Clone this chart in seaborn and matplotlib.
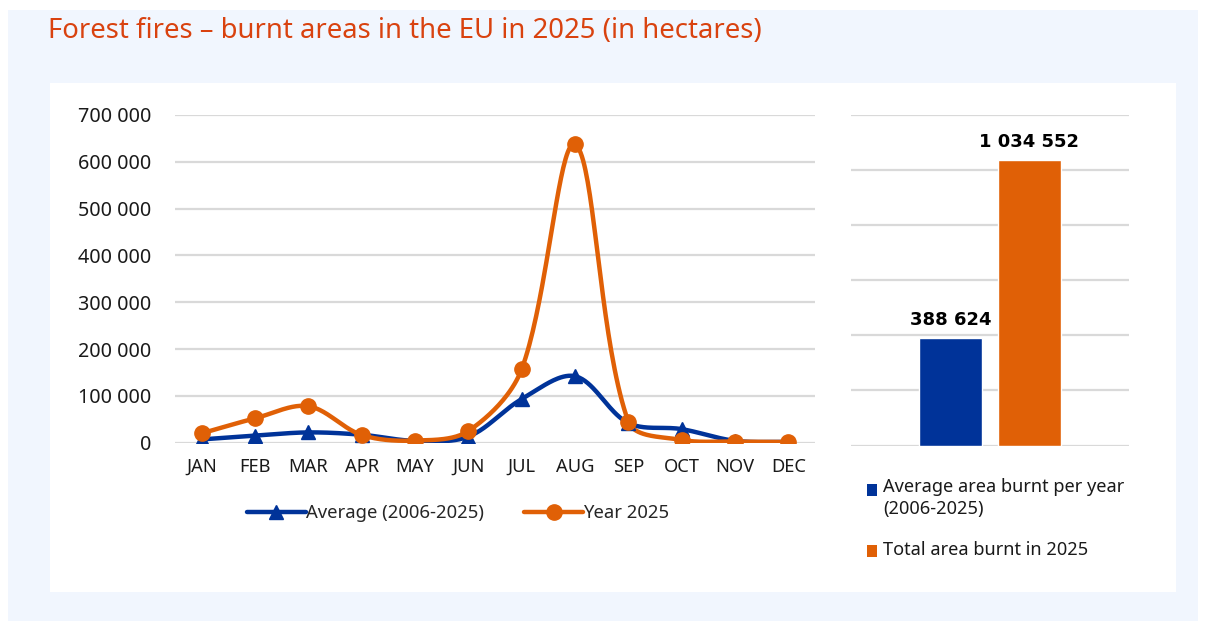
import numpy as np
import pandas as pd
import matplotlib
matplotlib.use("Agg")
import matplotlib.pyplot as plt
import seaborn as sns
from matplotlib.patches import Rectangle
from matplotlib.lines import Line2D
from matplotlib.ticker import FuncFormatter

# data (hectares)
months = ["JAN", "FEB", "MAR", "APR", "MAY", "JUN", "JUL", "AUG", "SEP", "OCT", "NOV", "DEC"]
avg_2006_2025 = [7000, 15000, 22000, 17000, 4000, 13000, 93000, 142000, 42000, 29000, 4000, 1500]
year_2025 = [20000, 52000, 78000, 16500, 4500, 25000, 157000, 637000, 45000, 6000, 2500, 1500]

bar_labels = ["Average area burnt per year\n(2006-2025)", "Total area burnt in 2025"]
bar_values = [388624, 1034552]

BLUE = "#003399"
ORANGE = "#e06006"
TITLE_C = "#d9420f"
BG = "#f1f6fe"
GRID = "#d9d9d9"

sns.set_theme(style="white")
plt.rcParams["font.family"] = ["Noto Sans", "DejaVu Sans"]

W, H = 1208, 623
fig = plt.figure(figsize=(W / 100, H / 100), dpi=100)
fig.patch.set_facecolor("white")

# background panels
fig.add_artist(Rectangle((8 / W, 1 - 621 / H), 1190 / W, 611 / H, transform=fig.transFigure,
                         facecolor=BG, edgecolor="none", zorder=-10))
fig.add_artist(Rectangle((50 / W, 1 - 592 / H), 1126 / W, 509 / H, transform=fig.transFigure,
                         facecolor="white", edgecolor="none", zorder=-9))

fig.text(48 / W, 1 - 31 / H, "Forest fires \u2013 burnt areas in the EU in 2025 (in hectares)",
         color=TITLE_C, fontsize=19.8, va="center", ha="left")

# ---- line chart ----
ax_l, ax_r, ax_b, ax_t = 175, 815, 442.7, 115
ax = fig.add_axes([ax_l / W, 1 - ax_b / H, (ax_r - ax_l) / W, (ax_b - ax_t) / H])
ax.set_facecolor("none")
ymax = 700000
px_x = (ax_r - ax_l) / 12.0
px_y = (ax_b - ax_t) / ymax


def smooth(vals, n=40):
    # excel-like smoothed line (bezier with length-weighted tangents)
    x = np.arange(len(vals), dtype=float)
    y = np.array(vals, dtype=float)
    P = np.column_stack([x * px_x, y * px_y])
    out = []
    for i in range(len(P) - 1):
        p0 = P[i - 1] if i > 0 else P[i]
        p1, p2 = P[i], P[i + 1]
        p3 = P[i + 2] if i + 2 < len(P) else P[i + 1]
        d01 = np.linalg.norm(p1 - p0)
        d12 = np.linalg.norm(p2 - p1)
        d23 = np.linalg.norm(p3 - p2)
        f1 = d12 / (d01 + d12) if d01 + d12 > 0 else 0
        f2 = d12 / (d12 + d23) if d12 + d23 > 0 else 0
        c1 = p1 + (p2 - p0) * f1 / 3
        c2 = p2 - (p3 - p1) * f2 / 3
        t = np.linspace(0, 1, n)[:, None]
        seg = (1 - t) ** 3 * p1 + 3 * (1 - t) ** 2 * t * c1 + 3 * (1 - t) * t ** 2 * c2 + t ** 3 * p2
        out.append(seg if i == 0 else seg[1:])
    seg = np.vstack(out)
    return seg[:, 0] / px_x, seg[:, 1] / px_y


for vals, col, mk, ms in [(avg_2006_2025, BLUE, "^", 10), (year_2025, ORANGE, "o", 11)]:
    sx, sy = smooth(vals)
    curve = pd.DataFrame({"x": sx, "y": sy})
    sns.lineplot(data=curve, x="x", y="y", ax=ax, color=col, lw=3.2, sort=False,
                 estimator=None, zorder=3)
    ax.plot(np.arange(len(vals)), vals, linestyle="none", marker=mk, ms=ms,
            color=col, zorder=4)

ax.set_xlim(-0.5, 11.5)
ax.set_ylim(0, ymax)
ax.set_yticks(np.arange(0, ymax + 1, 100000))
ax.yaxis.set_major_formatter(FuncFormatter(lambda v, p: f"{int(v):,}".replace(",", " ")))
ax.set_xticks(range(12))
ax.set_xticklabels(months)
ax.set_xlabel("")
ax.set_ylabel("")
ax.grid(axis="y", color=GRID, lw=1.6)
ax.set_axisbelow(True)
for s in ax.spines.values():
    s.set_visible(False)
ax.tick_params(axis="y", length=0, pad=17, labelsize=14.2, labelcolor="#1a1a1a")
ax.tick_params(axis="x", length=0, pad=11, labelsize=13.2, labelcolor="#1a1a1a")

handles = [Line2D([], [], color=BLUE, lw=3.2, marker="^", ms=10),
           Line2D([], [], color=ORANGE, lw=3.2, marker="o", ms=11)]
fig.legend(handles, ["Average (2006-2025)", "Year 2025"], loc="center",
           bbox_to_anchor=(458 / W, 1 - 513 / H), ncol=2, frameon=False,
           fontsize=13.3, handlelength=3.2, handletextpad=0.0, columnspacing=2.2)

# ---- bar chart ----
b_l, b_r, b_b, b_t = 851, 1129, 445.7, 114.5
axb = fig.add_axes([b_l / W, 1 - b_b / H, (b_r - b_l) / W, (b_b - b_t) / H])
axb.set_facecolor("none")
bars = pd.DataFrame({"cat": bar_labels, "val": bar_values})
sns.barplot(data=bars, x="cat", y="val", hue="cat", palette=[BLUE, ORANGE], width=0.8,
            legend=False, ax=axb, saturation=1, zorder=3)
axb.set_xlim(-1.26, 2.26)
axb.set_ylim(0, 1200000)
axb.set_yticks(np.arange(0, 1200001, 200000))
axb.set_yticklabels([])
axb.set_xticks([])
axb.set_xlabel("")
axb.set_ylabel("")
axb.grid(axis="y", color=GRID, lw=1.6)
axb.set_axisbelow(True)
for s in axb.spines.values():
    s.set_visible(False)
axb.tick_params(length=0)
for i, v in enumerate(bar_values):
    axb.annotate(f"{v:,}".replace(",", " "), (i, v), xytext=(0, 13), textcoords="offset points",
                 ha="center", va="center", fontsize=13, fontweight="bold",
                 family="DejaVu Sans", color="black")

# bar legend drawn by hand
leg_y = [490, 551]
for lab, col, y in zip(bar_labels, [BLUE, ORANGE], leg_y):
    fig.add_artist(Rectangle((867 / W, 1 - (y + 6) / H), 10 / W, 12 / H,
                             transform=fig.transFigure, facecolor=col, edgecolor="none"))
    fig.text(883 / W, 1 - (y - 12) / H if "\n" in lab else 1 - (y - 1) / H, lab,
             fontsize=13.1, va="top" if "\n" in lab else "center",
             ha="left", color="#1a1a1a", linespacing=1.3)

fig.savefig("out.png", dpi=100)
